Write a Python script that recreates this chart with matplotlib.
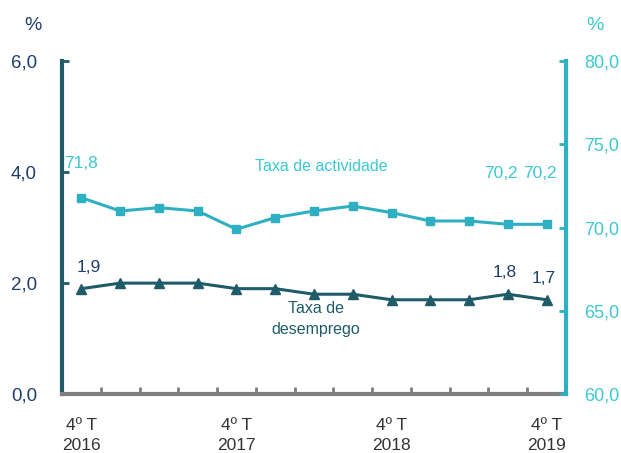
import numpy as np
import matplotlib
matplotlib.use("Agg")
import matplotlib.pyplot as plt
from matplotlib import font_manager

# pick a narrow font if there is one
names = {f.name for f in font_manager.fontManager.ttflist}
font = "Liberation Sans Narrow" if "Liberation Sans Narrow" in names else "Liberation Sans"
plt.rcParams["font.family"] = [font, "DejaVu Sans"]

quarters = ["4º T\n2016", "", "", "", "4º T\n2017", "", "", "", "4º T\n2018", "", "", "", "4º T\n2019"]
actividade = [71.8, 71.0, 71.2, 71.0, 69.9, 70.6, 71.0, 71.3, 70.9, 70.4, 70.4, 70.2, 70.2]
desemprego = [1.9, 2.0, 2.0, 2.0, 1.9, 1.9, 1.8, 1.8, 1.7, 1.7, 1.7, 1.8, 1.7]
act_labels = {0: "71,8", 11: "70,2", 12: "70,2"}
des_labels = {0: "1,9", 11: "1,8", 12: "1,7"}

c_act = "#2fb0c2"
c_act_txt = "#3cc8d0"
c_des = "#1f5b68"
c_des_txt = "#1e3f6e"
c_grey = "#7f7f7f"

fig = plt.figure(figsize=(6.21, 4.53), dpi=100)
ax = fig.add_axes([0.0998, 0.130, 0.8116, 0.735])
ax2 = ax.twinx()

x = np.arange(len(quarters))

ax.plot(x, desemprego, color=c_des, lw=2.2, marker="^", ms=6.5, zorder=3)
ax2.plot(x, actividade, color=c_act, lw=2.2, marker="s", ms=5.5, zorder=3)

ax.set_xlim(-0.5, len(quarters) - 0.5)
ax.set_ylim(0, 6)
ax2.set_ylim(60, 80)

ax.set_yticks([0, 2, 4, 6])
ax.set_yticklabels(["0,0", "2,0", "4,0", "6,0"])
ax2.set_yticks([60, 65, 70, 75, 80])
ax2.set_yticklabels(["60,0", "65,0", "70,0", "75,0", "80,0"])

# category labels at centres, small tick marks at boundaries
ax.set_xticks(x)
ax.set_xticklabels(quarters, linespacing=1.45)
ax.set_xticks(np.arange(len(quarters) + 1) - 0.5, minor=True)
ax.tick_params(axis="x", which="major", length=0, pad=17, labelsize=12.5, labelcolor="#333333")
ax.tick_params(axis="x", which="minor", direction="in", length=5, width=2, color=c_grey)

ax.tick_params(axis="y", direction="in", length=5, width=2, color=c_des, pad=18,
               labelsize=13.5, labelcolor=c_des_txt)
ax2.tick_params(axis="y", direction="in", length=5, width=2, color=c_act, pad=13,
                labelsize=13, labelcolor=c_act_txt)

for a in (ax, ax2):
    a.spines["top"].set_visible(False)
    a.set_facecolor("none")
ax.spines["right"].set_visible(False)
ax2.spines["left"].set_visible(False)
ax2.spines["bottom"].set_visible(False)
ax.spines["left"].set_color(c_des)
ax.spines["left"].set_linewidth(3)
ax.spines["bottom"].set_color(c_grey)
ax.spines["bottom"].set_linewidth(3)
ax2.spines["right"].set_color(c_act)
ax2.spines["right"].set_linewidth(3)

act_offsets = {0: (0, 19), 11: (-5, 31), 12: (-5, 31)}
for i, t in act_labels.items():
    ax2.annotate(t, (x[i], actividade[i]), xytext=act_offsets[i], textcoords="offset points",
                 ha="center", va="bottom", fontsize=12.5, color=c_act_txt)
for i, t in des_labels.items():
    dx = 5 if i == 0 else -2
    ax.annotate(t, (x[i], desemprego[i]), xytext=(dx, 10), textcoords="offset points",
                ha="center", va="bottom", fontsize=12.5, color=c_des_txt)

ax2.text(6.2, 73.7, "Taxa de actividade", ha="center", va="center", fontsize=11.5, color=c_act_txt)
ax.text(6.05, 1.35, "Taxa de\ndesemprego", ha="center", va="center", fontsize=11.5,
        color=c_des, linespacing=1.5)

fig.text(33 / 621, 1 - 26 / 453, "%", ha="center", va="center", fontsize=14, color=c_des_txt)
fig.text(595 / 621, 1 - 26 / 453, "%", ha="center", va="center", fontsize=14, color=c_act_txt)

fig.savefig("out.png", dpi=100)
